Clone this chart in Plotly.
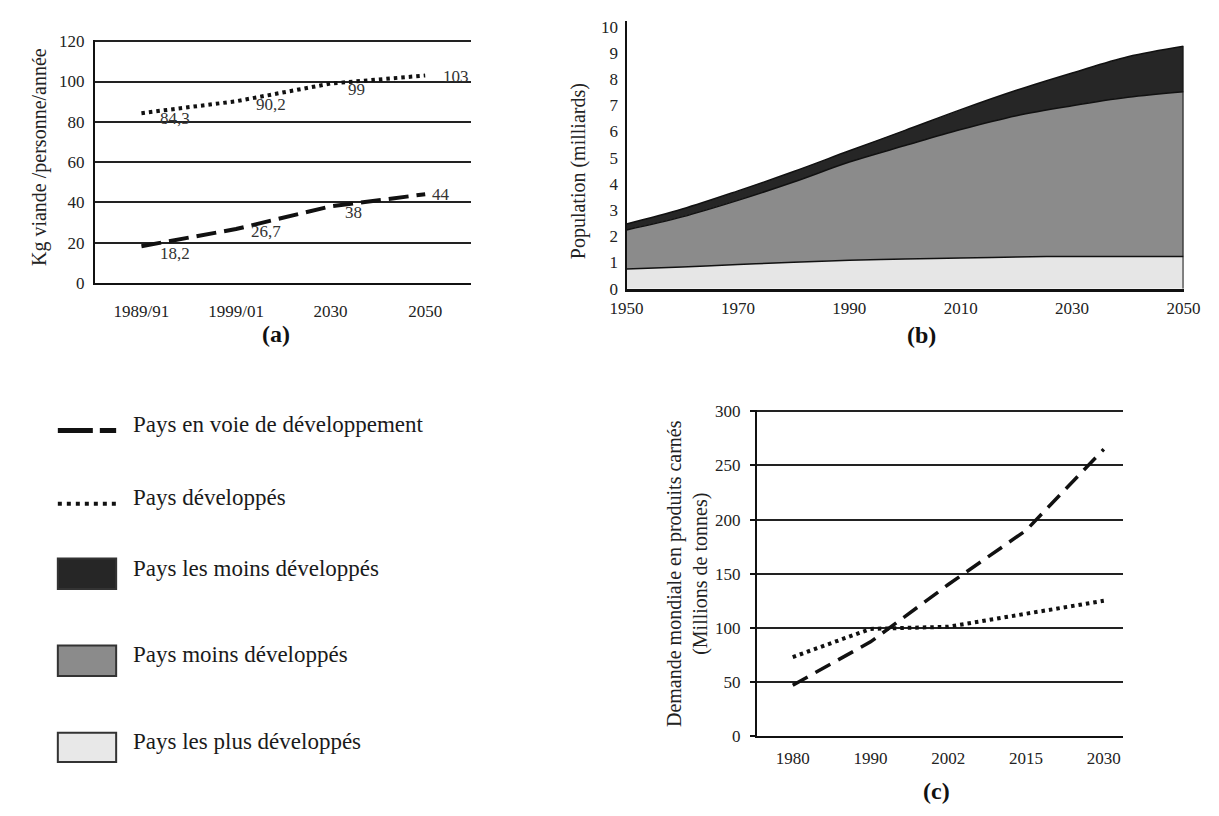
import plotly.graph_objects as go

W, H = 1219, 816
FONT = "Liberation Serif"

# ---------------- data ----------------
a_categories = ["1989/91", "1999/01", "2030", "2050"]
a_developing = [18.2, 26.7, 38, 44]
a_developed = [84.3, 90.2, 99, 103]
a_yticks = [0, 20, 40, 60, 80, 100, 120]

b_years = [1950, 1960, 1970, 1980, 1990, 2000, 2010, 2020, 2030, 2040, 2050]
b_most_developed = [0.75, 0.83, 0.92, 1.01, 1.08, 1.13, 1.17, 1.21, 1.23, 1.23, 1.23]
b_less_developed = [1.49, 1.91, 2.45, 3.06, 3.75, 4.33, 4.90, 5.39, 5.75, 6.07, 6.28]
b_least_developed = [0.23, 0.30, 0.36, 0.40, 0.43, 0.58, 0.76, 0.97, 1.25, 1.55, 1.74]
b_xticks = [1950, 1970, 1990, 2010, 2030, 2050]

c_categories = ["1980", "1990", "2002", "2015", "2030"]
c_developing = [47, 87, 140, 190, 265]
c_developed = [73, 99, 101, 113, 125]
c_yticks = [0, 50, 100, 150, 200, 250, 300]

legend_labels = ["Pays en voie de développement", "Pays développés",
                 "Pays les moins développés", "Pays moins développés",
                 "Pays les plus développés"]


def px(x):
    return x / W


def py(y):
    return 1 - y / H


DASH_A = "20px,8px"
DOT_A = "3.5px,4px"
DASH_C = "17px,9px"
DOT_C = "3.5px,4px"

fig = go.Figure()

# ---------------- (a) ----------------
a_x = list(range(len(a_categories)))
fig.add_trace(go.Scatter(x=a_x, y=a_developed, mode="lines", xaxis="x", yaxis="y",
                         line=dict(color="#111", width=4, dash=DOT_A), showlegend=False))
fig.add_trace(go.Scatter(x=a_x, y=a_developing, mode="lines", xaxis="x", yaxis="y",
                         line=dict(color="#111", width=4, dash=DASH_A), showlegend=False))

# ---------------- (b) ----------------
b_cols = [("#e6e6e6", b_most_developed), ("#8b8b8b", b_less_developed), ("#262626", b_least_developed)]
for col, vals in b_cols:
    fig.add_trace(go.Scatter(x=b_years, y=vals, mode="lines", stackgroup="pop",
                             xaxis="x2", yaxis="y2", fillcolor=col,
                             line=dict(color="#111", width=1.5, shape="spline", smoothing=1.0),
                             showlegend=False))
b_total_end = b_most_developed[-1] + b_less_developed[-1] + b_least_developed[-1]
fig.add_trace(go.Scatter(x=[b_years[-1], b_years[-1]], y=[0, b_total_end], mode="lines",
                         xaxis="x2", yaxis="y2", line=dict(color="#111", width=2), showlegend=False))

# ---------------- (c) ----------------
c_x = list(range(len(c_categories)))
fig.add_trace(go.Scatter(x=c_x, y=c_developed, mode="lines", xaxis="x3", yaxis="y3",
                         line=dict(color="#111", width=4, dash=DOT_C), showlegend=False))
fig.add_trace(go.Scatter(x=c_x, y=c_developing, mode="lines", xaxis="x3", yaxis="y3",
                         line=dict(color="#111", width=3.5, dash=DASH_C), showlegend=False))

tickfont = dict(family=FONT, size=17, color="#222")

# (a) axes: x from 80 to 467 px, categories at 128 + 97.3*i
a_step = 97.3
a_x0 = 128
fig.update_layout(
    xaxis=dict(domain=[px(80), px(467)], range=[(80 - a_x0) / a_step, (467 - a_x0) / a_step],
               tickmode="array", tickvals=a_x, ticktext=a_categories, showgrid=False,
               zeroline=False, showline=True, linecolor="#111", linewidth=1.5,
               ticks="", tickfont=tickfont, ticklabelstandoff=12, anchor="y"),
    yaxis=dict(domain=[py(281), py(281 - 120.5 * 2.058)], range=[0, 120.5],
               tickmode="array", tickvals=a_yticks, showgrid=True, gridcolor="#222", gridwidth=1.5,
               zeroline=False, showline=True, linecolor="#111", linewidth=1.5,
               ticks="", tickfont=tickfont, ticklabelstandoff=5, anchor="x"),
)

# (b) axes
fig.update_layout(
    xaxis2=dict(domain=[px(627), px(1200)], range=[1950, 2050], tickmode="array", tickvals=b_xticks,
                showgrid=False, zeroline=False, showline=True, linecolor="#111", linewidth=2.5,
                ticks="", tickfont=tickfont, ticklabelstandoff=2, anchor="y2"),
    yaxis2=dict(domain=[py(287), py(287 - 10.2 * 26.8)], range=[0, 10.2], dtick=1, tick0=0,
                showgrid=False, zeroline=False, showline=True, linecolor="#111", linewidth=2,
                ticks="", tickfont=tickfont, ticklabelstandoff=3, anchor="x2"),
)

# (c) axes: x from 761 to 1138 px, categories at 798 + 80*i
c_step = 80.0
c_x0 = 798
fig.update_layout(
    xaxis3=dict(domain=[px(761), px(1138)], range=[(761 - c_x0) / c_step, (1138 - c_x0) / c_step],
                tickmode="array", tickvals=c_x, ticktext=c_categories, showgrid=False,
                zeroline=False, showline=True, linecolor="#111", linewidth=1.5,
                ticks="", tickfont=tickfont, ticklabelstandoff=6, anchor="y3"),
    yaxis3=dict(domain=[py(744.5), py(744.5 - 301 * 1.107)], range=[0, 301],
                tickmode="array", tickvals=c_yticks, showgrid=True, gridcolor="#222", gridwidth=1.5,
                zeroline=False, showline=True, linecolor="#111", linewidth=1.5,
                ticks="outside", ticklen=5, tickcolor="#111", tickwidth=1.5,
                tickfont=tickfont, ticklabelstandoff=6, anchor="x3"),
)

annotations = []

# data labels (a)
a_dev_shifts = [(34, -5), (35, -3), (26, -6), (31, -1)]
a_devp_shifts = [(34, -7), (30, -2), (23, -6), (16, 0)]
for i, v in enumerate(a_developed):
    annotations.append(dict(x=a_x[i], y=v, xref="x", yref="y", text=str(v).replace(".", ","),
                            xanchor="center", yanchor="middle",
                            showarrow=False, xshift=a_dev_shifts[i][0], yshift=a_dev_shifts[i][1],
                            font=dict(family=FONT, size=17, color="#333")))
for i, v in enumerate(a_developing):
    annotations.append(dict(x=a_x[i], y=v, xref="x", yref="y", text=str(v).replace(".", ","),
                            xanchor="center", yanchor="middle",
                            showarrow=False, xshift=a_devp_shifts[i][0], yshift=a_devp_shifts[i][1],
                            font=dict(family=FONT, size=17, color="#333")))

titlefont = dict(family=FONT, size=20, color="#222")
annotations += [
    dict(x=px(23), y=py(152), xref="paper", yref="paper", text="Kg viande /personne/année",
         textangle=-90, showarrow=False, font=titlefont, xanchor="center", yanchor="middle"),
    dict(x=px(577), y=py(167), xref="paper", yref="paper", text="Population (milliards)",
         textangle=-90, showarrow=False, font=titlefont, xanchor="center", yanchor="middle"),
    dict(x=px(689), y=py(578), xref="paper", yref="paper",
         text="Demande mondiale en produits carnés<br>(Millions de tonnes)",
         textangle=-90, showarrow=False, font=titlefont, xanchor="center", yanchor="middle"),
]

panelfont = dict(family=FONT, size=24, color="#111")
for lbl, x, y in [("(a)", 266, 333), ("(b)", 930, 334), ("(c)", 946, 801)]:
    annotations.append(dict(x=px(x), y=py(y), xref="paper", yref="paper", text="<b>%s</b>" % lbl,
                            showarrow=False, font=panelfont, xanchor="center", yanchor="middle"))

# legend
legend_y = [426, 501, 573, 661, 750]
for lbl, y in zip(legend_labels, legend_y):
    annotations.append(dict(x=px(117), y=py(y), xref="paper", yref="paper", text=lbl,
                            xanchor="left", yanchor="middle", showarrow=False,
                            font=dict(family=FONT, size=23, color="#1a1a1a")))

shapes = [
    dict(type="line", xref="paper", yref="paper", x0=px(42), x1=px(102), y0=py(432), y1=py(432),
         line=dict(color="#111", width=5, dash="35px,7px,18px,100px")),
    dict(type="line", xref="paper", yref="paper", x0=px(42), x1=px(102), y0=py(507), y1=py(507),
         line=dict(color="#111", width=4, dash="4px,5px")),
    dict(type="rect", xref="paper", yref="paper", x0=px(42), x1=px(102), y0=py(594), y1=py(563),
         fillcolor="#262626", line=dict(color="#333", width=2)),
    dict(type="rect", xref="paper", yref="paper", x0=px(42), x1=px(102), y0=py(683), y1=py(652),
         fillcolor="#8b8b8b", line=dict(color="#333", width=2)),
    dict(type="rect", xref="paper", yref="paper", x0=px(42), x1=px(102), y0=py(771), y1=py(741),
         fillcolor="#e8e8e8", line=dict(color="#333", width=2)),
]

fig.update_layout(
    width=W, height=H, margin=dict(l=0, r=0, t=0, b=0),
    paper_bgcolor="white", plot_bgcolor="white",
    annotations=annotations, shapes=shapes, showlegend=False,
    font=dict(family=FONT),
)

fig.write_html("out.html")
